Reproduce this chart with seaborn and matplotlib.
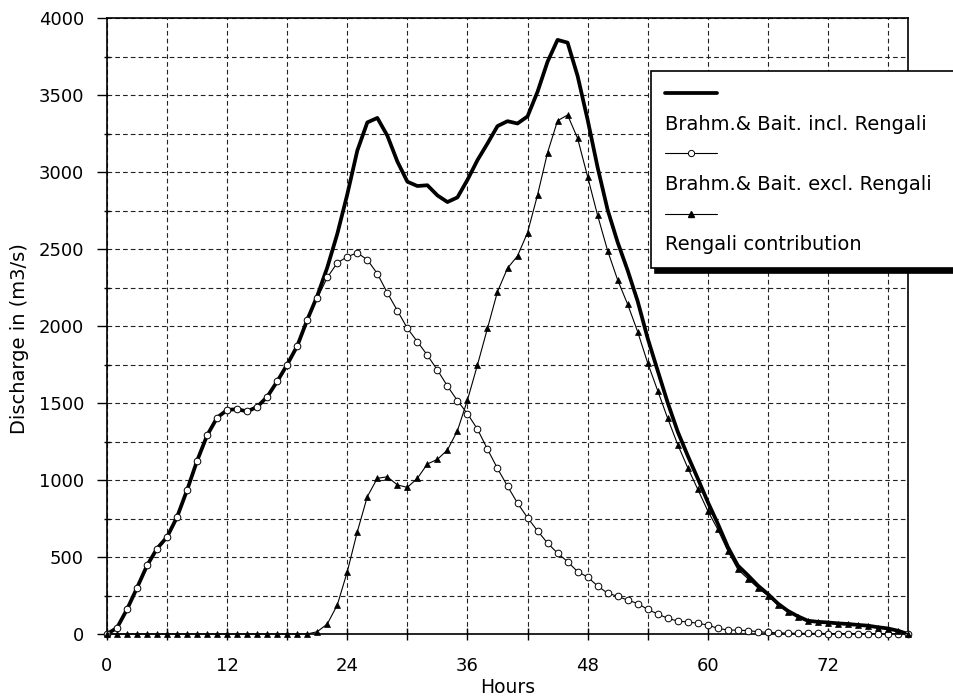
import matplotlib
matplotlib.use("Agg")
import matplotlib.pyplot as plt
import pandas as pd
import seaborn as sns
from matplotlib.lines import Line2D
from matplotlib.ticker import MultipleLocator, FixedLocator

# ---------------- data ----------------
hours = list(range(81))

total = [0, 40, 160, 300, 445, 555, 630, 760, 935, 1125,
         1290, 1405, 1455, 1460, 1445, 1475, 1540, 1640, 1750, 1870,
         2040, 2195, 2380, 2598, 2855, 3139, 3322, 3351, 3236, 3068,
         2937, 2909, 2914, 2848, 2805, 2835, 2949, 3077, 3185, 3298,
         3330, 3315, 3361, 3521, 3716, 3858, 3840, 3624, 3340, 3030,
         2754, 2544, 2361, 2161, 1920, 1710, 1502, 1314, 1158, 1010,
         858, 717, 566, 445, 382, 315, 260, 198, 150, 115,
         86, 79, 75, 69, 65, 59, 54, 44, 36, 21, 0]

excl_rengali = [0, 40, 160, 300, 445, 555, 630, 760, 935, 1125,
                1290, 1405, 1455, 1460, 1445, 1475, 1540, 1640, 1750, 1870,
                2040, 2180, 2315, 2410, 2450, 2475, 2430, 2340, 2215, 2100,
                1985, 1898, 1810, 1714, 1610, 1515, 1430, 1330, 1200, 1075,
                960, 850, 755, 670, 590, 525, 470, 405, 370, 312,
                265, 245, 220, 198, 160, 130, 102, 84, 78, 70,
                58, 37, 26, 25, 22, 15, 10, 8, 5, 5,
                4, 4, 3, 3, 3, 2, 2, 2, 1, 1, 0]

rengali = [0, 0, 0, 0, 0, 0, 0, 0, 0, 0,
           0, 0, 0, 0, 0, 0, 0, 0, 0, 0,
           0, 15, 65, 188, 405, 664, 892, 1011, 1021, 968,
           952, 1011, 1104, 1134, 1195, 1320, 1519, 1747, 1985, 2223,
           2375, 2455, 2606, 2851, 3126, 3333, 3370, 3219, 2970, 2718,
           2489, 2299, 2141, 1963, 1760, 1580, 1400, 1230, 1080, 940,
           800, 680, 540, 420, 360, 300, 250, 190, 145, 110,
           82, 75, 72, 66, 62, 57, 52, 42, 35, 20, 0]

series_labels = ["Brahm.& Bait. incl. Rengali",
                 "Brahm.& Bait. excl. Rengali",
                 "Rengali contribution"]
x_tick_values = [0, 12, 24, 36, 48, 60, 72]
x_label = "Hours"
y_label = "Discharge in (m3/s)"

df = pd.DataFrame({"hours": hours, "total": total,
                   "excl": excl_rengali, "rengali": rengali})

# ---------------- figure ----------------
sns.set_theme(style="white")
plt.rcParams["font.family"] = ["DejaVu Sans"]
plt.rcParams["text.color"] = "black"
plt.rcParams["axes.labelcolor"] = "black"

W, H = 954, 699
fig = plt.figure(figsize=(W / 100, H / 100), dpi=100)
ax = fig.add_axes([107 / W, 1 - 634 / H, (908 - 107) / W, (634 - 18) / H])

thick_lw = 2.7
thin_lw = 0.8

sns.lineplot(data=df, x="hours", y="total", ax=ax, color="black",
             lw=thick_lw, legend=False, zorder=3)
sns.lineplot(data=df, x="hours", y="excl", ax=ax, color="black",
             lw=thin_lw, marker="o", markersize=4.8, markerfacecolor="white",
             markeredgecolor="black", markeredgewidth=0.7, legend=False,
             zorder=4, clip_on=False)
sns.lineplot(data=df, x="hours", y="rengali", ax=ax, color="black",
             lw=thin_lw, marker="^", markersize=4, markerfacecolor="black",
             markeredgecolor="black", markeredgewidth=0.5, legend=False,
             zorder=5, clip_on=False)

ax.set_xlim(0, 80)
ax.set_ylim(0, 4000)
ax.xaxis.set_major_locator(FixedLocator(x_tick_values))
ax.xaxis.set_minor_locator(MultipleLocator(6))
ax.yaxis.set_major_locator(MultipleLocator(500))
ax.yaxis.set_minor_locator(MultipleLocator(250))

ax.grid(which="both", color="#222222", linestyle=(0, (4.2, 2.8)),
        linewidth=0.8)
ax.set_axisbelow(True)

for sp in ax.spines.values():
    sp.set_color("black")
    sp.set_linewidth(1.2)

ax.tick_params(axis="x", which="major", direction="inout", length=8.6,
               width=1, color="black", labelsize=13, pad=12.5,
               labelcolor="black", bottom=True)
ax.tick_params(axis="x", which="minor", direction="inout", length=8.6,
               width=1, color="black", bottom=True)
ax.tick_params(axis="y", which="major", direction="out", length=7.2,
               width=1, color="black", labelsize=13, pad=9.4,
               labelcolor="black", left=True)
ax.tick_params(axis="y", which="minor", direction="inout", length=5,
               width=1, color="black", left=True)

ax.set_xlabel(x_label, fontsize=13.5)
ax.set_ylabel(y_label, fontsize=14)
ax.xaxis.set_label_coords(0.5, -0.071)
ax.yaxis.set_label_coords(-0.097, 0.48)

# ---------------- legend (handle shown above each label) ----------------
handles = [
    Line2D([], [], color="black", lw=thick_lw),
    Line2D([], [], linestyle="none"),
    Line2D([], [], color="black", lw=thin_lw, marker="o", markersize=4.5,
           markerfacecolor="white", markeredgecolor="black",
           markeredgewidth=0.7),
    Line2D([], [], linestyle="none"),
    Line2D([], [], color="black", lw=thin_lw, marker="^", markersize=4,
           markerfacecolor="black"),
    Line2D([], [], linestyle="none"),
]
leg_labels = ["", series_labels[0], "", series_labels[1], "", series_labels[2]]

hl = 2.65
leg = ax.legend(handles, leg_labels, loc="upper left",
                bbox_to_anchor=(651 / W, 1 - 266 / H, 0.4, (266 - 71) / H),
                bbox_transform=fig.transFigure, mode="expand",
                borderaxespad=0, borderpad=0.72, labelspacing=0.57,
                handlelength=hl, handletextpad=-hl, fontsize=14,
                numpoints=1, fancybox=False, framealpha=1,
                shadow={"ox": 3, "oy": -3, "color": "black", "alpha": 1})
leg.get_frame().set_edgecolor("black")
leg.get_frame().set_linewidth(1.2)
leg.get_frame().set_facecolor("white")
for t in leg.get_texts():
    t.set_color("black")

fig.savefig("out.png", dpi=100)
